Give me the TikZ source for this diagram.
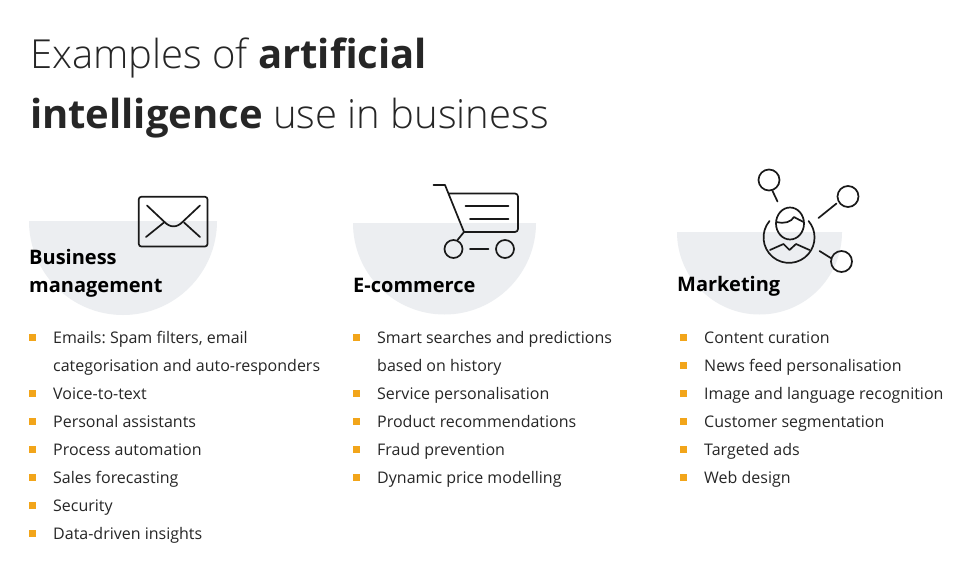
\documentclass[tikz,border=0pt]{standalone}
\usepackage{fontspec}
\setmainfont{Open Sans}
\newfontfamily\lightfont{Open Sans Light}
\definecolor{inkgrey}{HTML}{262626}
\definecolor{halfgrey}{HTML}{ECEEF1}
\definecolor{markorange}{HTML}{F2A51A}
\tikzset{
  titletext/.style={anchor=base west,inner sep=0pt,text=inkgrey,font=\fontsize{40}{48}\selectfont\lightfont},
  headtext/.style={anchor=base west,inner sep=0pt,text=black,font=\fontsize{20}{28}\selectfont\bfseries},
  itemtext/.style={anchor=base west,inner sep=0pt,text=inkgrey,font=\fontsize{16}{28}\selectfont\frenchspacing},
  itemmark/.style={fill=markorange,minimum size=7pt,inner sep=0pt},
  iconline/.style={line width=1.7pt,draw=black!90,line cap=round,line join=round},
}
\begin{document}
\begin{tikzpicture}[x=1pt,y=-1pt]
\useasboundingbox(0,0)rectangle(960,580);
\fill[white](0,0)rectangle(960,580);
% half discs
\fill[halfgrey](29,221)arc[start angle=180,end angle=0,radius=94]--cycle;
\fill[halfgrey](353,223)arc[start angle=180,end angle=0,radius=91.5]--cycle;
\fill[halfgrey](677,232)arc[start angle=180,end angle=0,radius=82.5]--cycle;
% title
\node[titletext](titleone)at(29.8,69){Examples of {\fontspec{Open Sans}\bfseries artificial}};
\node[titletext](titletwo)at(29.8,129){{\fontspec{Open Sans}\bfseries intelligence} use in business};
% headings
\node[headtext](bizone)at(29,264){Business};
\node[headtext](biztwo)at(29,292){management};
\node[headtext](shop)at(353,292){E-commerce};
\node[headtext](market)at(677,291){Marketing};
% lists
\foreach \n/\y/\txt in {1/343/{Emails: Spam filters, email},2/371/{categorisation and auto-responders},3/399/Voice-to-text,4/427/Personal assistants,5/455/Process automation,6/483/Sales forecasting,7/511/Security,8/539/Data-driven insights}
  \node[itemtext](biz\n)at(53,\y){\txt};
\foreach \n/\y/\txt in {1/343/Smart searches and predictions,2/371/based on history,3/399/Service personalisation,4/427/Product recommendations,5/455/Fraud prevention,6/483/Dynamic price modelling}
  \node[itemtext](shop\n)at(377,\y){\txt};
\foreach \n/\y/\txt in {1/343/Content curation,2/371/News feed personalisation,3/399/Image and language recognition,4/427/Customer segmentation,5/455/Targeted ads,6/483/Web design}
  \node[itemtext](market\n)at(704,\y){\txt};
\foreach \n/\y in {1/337,3/393,4/421,5/449,6/477,7/505,8/533}
  \node[itemmark](bizmark\n)at(32.5,\y){};
\foreach \n/\y in {1/337,3/393,4/421,5/449,6/477}
  \node[itemmark](shopmark\n)at(356.5,\y){};
\foreach \n/\y in {1/337,2/365,3/393,4/421,5/449,6/477}
  \node[itemmark](marketmark\n)at(683.5,\y){};
% envelope
\draw[iconline,rounded corners=2.5pt](138.8,196.8)rectangle(207.5,246.5);
\draw[iconline](147,205.5)--(164,221.5)..controls(170,228)and(177,228)..(183,221.5)--(200,205.5);
\draw[iconline](146,237)--(164,222.5)(184,222.5)--(200,237);
% cart
\draw[iconline](433.5,185)--(445,185)--(464,232)--(457.5,240);
\draw[iconline,rounded corners=3pt](449,193.5)--(518,193.5)--(518,232)--(464,232);
\draw[iconline](465.5,206)--(508.5,206)(470,219)--(508.5,219)(470,249)--(488.5,249);
\draw[iconline](453.5,249)circle[radius=9];
\draw[iconline](505,249)circle[radius=9];
% person and links
\draw[iconline](769,180)circle[radius=10.5];
\draw[iconline](848,196.5)circle[radius=10.5];
\draw[iconline](841.5,261.5)circle[radius=10.5];
\draw[iconline](772.5,191)--(777.5,201.5)(836.5,203.5)--(818.5,218)(831.5,258.5)--(819.5,251);
\draw[iconline](769.5,221)arc[start angle=220,end angle=-40,radius=25.5];
\draw[iconline](790,223.5)ellipse[x radius=14,y radius=16];
\draw[iconline](776.5,222)..controls(785,224)and(791,222)..(794,217)..controls(797,219)and(800,220)..(803.5,222);
\draw[iconline](770,250)--(783.5,244)--(789.5,250)--(796,244)--(809.5,250);
\end{tikzpicture}
\end{document}
